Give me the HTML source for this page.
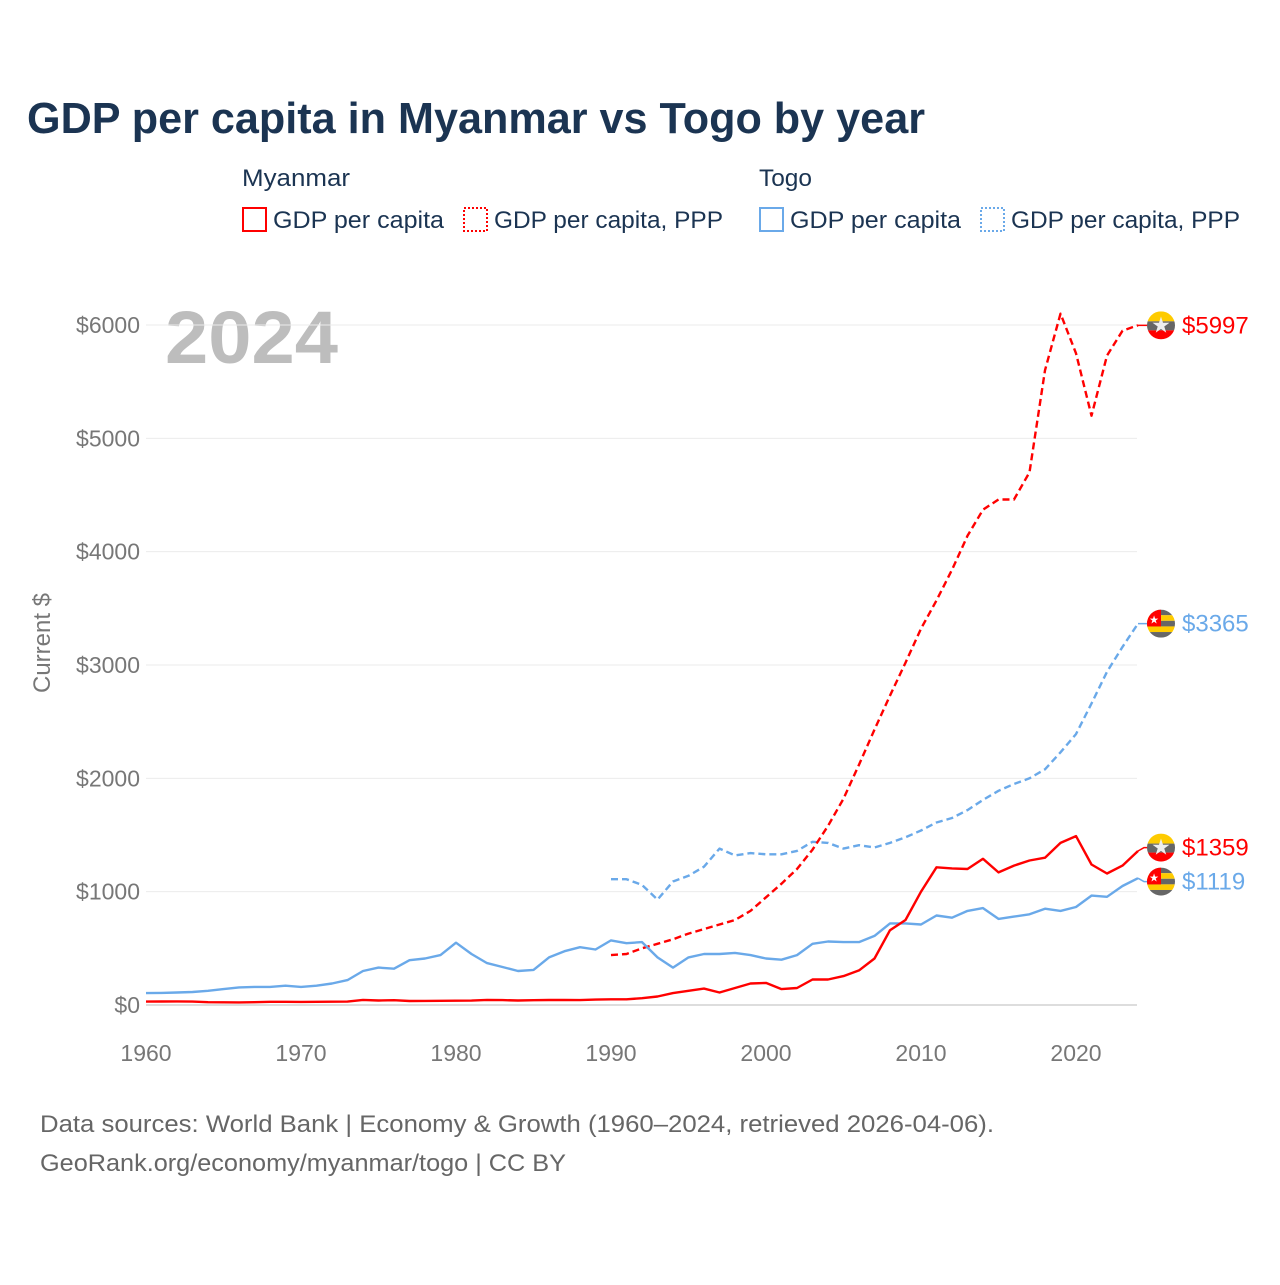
<!DOCTYPE html>
<html><head><meta charset="utf-8"><style>
body{margin:0;background:#fff}
svg text{font-family:"Liberation Sans",sans-serif}
</style></head><body>
<svg id="chart" width="1280" height="1280" viewBox="0 0 1280 1280" xmlns="http://www.w3.org/2000/svg">
<rect width="1280" height="1280" fill="#fff"/>
<text x="27" y="133" font-size="44" font-weight="bold" fill="#1b3452" textLength="898" lengthAdjust="spacingAndGlyphs">GDP per capita in Myanmar vs Togo by year</text>
<g fill="#1b3452" font-size="24">
<text x="242" y="186" textLength="108" lengthAdjust="spacingAndGlyphs">Myanmar</text>
<text x="759" y="186" textLength="53" lengthAdjust="spacingAndGlyphs">Togo</text>
<g><rect x="243" y="208" width="23" height="23" fill="none" stroke="#f00" stroke-width="2"/><text x="273" y="228" textLength="171" lengthAdjust="spacingAndGlyphs">GDP per capita</text></g>
<g><rect x="464" y="208" width="23" height="23" fill="none" stroke="#f00" stroke-width="2" stroke-dasharray="2,2"/><text x="494" y="228" textLength="229" lengthAdjust="spacingAndGlyphs">GDP per capita, PPP</text></g>
<g><rect x="760" y="208" width="23" height="23" fill="none" stroke="#6aa9e9" stroke-width="2"/><text x="790" y="228" textLength="171" lengthAdjust="spacingAndGlyphs">GDP per capita</text></g>
<g><rect x="981" y="208" width="23" height="23" fill="none" stroke="#6aa9e9" stroke-width="2" stroke-dasharray="2,2"/><text x="1011" y="228" textLength="229" lengthAdjust="spacingAndGlyphs">GDP per capita, PPP</text></g>
</g>
<text x="165" y="363" font-size="74" font-weight="bold" fill="#bdbdbd" textLength="173" lengthAdjust="spacingAndGlyphs">2024</text>
<text transform="translate(50,643) rotate(-90)" text-anchor="middle" font-size="24" fill="#777">Current $</text>
<g id="grid"></g><g id="series"></g><g id="ends"></g>
<text x="40" y="1132" font-size="24" fill="#666" textLength="954" lengthAdjust="spacingAndGlyphs">Data sources: World Bank | Economy &amp; Growth (1960–2024, retrieved 2026-04-06).</text>
<text x="40" y="1171" font-size="24" fill="#666" textLength="526" lengthAdjust="spacingAndGlyphs">GeoRank.org/economy/myanmar/togo | CC BY</text>
</svg>
<script>
const yTicks=[0,1000,2000,3000,4000,5000,6000];
const yTickLabels=["$0","$1000","$2000","$3000","$4000","$5000","$6000"];
const xTicks=[1960,1970,1980,1990,2000,2010,2020];
const togoGdp=[105,107,110,115,125,140,155,160,160,170,160,170,190,220,300,330,320,395,410,440,550,450,370,335,300,310,420,475,510,490,570,545,555,420,330,420,450,450,460,440,410,400,440,540,560,555,555,610,720,720,710,790,770,830,855,760,780,800,850,830,865,965,955,1050,1119];
const myanmarGdp=[30,31,32,30,25,24,23,25,28,28,27,28,29,30,45,40,42,35,36,37,38,39,45,43,40,42,44,44,43,48,50,50,60,75,105,125,145,110,150,190,195,140,150,225,225,255,305,410,660,750,1000,1215,1205,1200,1290,1170,1230,1275,1300,1430,1490,1240,1160,1230,1359];
const ppYears1990=1990;
const myanmarPpp=[440,450,500,540,580,630,670,710,750,830,950,1070,1200,1370,1580,1820,2120,2430,2730,3020,3320,3570,3840,4140,4370,4460,4460,4700,5600,6100,5750,5200,5730,5950,5997];
const togoPpp=[1110,1110,1060,930,1090,1140,1220,1380,1320,1340,1330,1330,1360,1440,1430,1380,1410,1390,1430,1480,1540,1610,1650,1720,1810,1890,1950,2000,2080,2230,2390,2660,2940,3160,3365];
const endLabels=["$5997","$3365","$1359","$1119"];
const NS="http://www.w3.org/2000/svg";
const x=yr=>146+(yr-1960)*15.5;
const y=v=>1005-v*0.113333;
function mk(t,a,p){const e=document.createElementNS(NS,t);for(const k in a)e.setAttribute(k,a[k]);p.appendChild(e);return e;}
const grid=document.getElementById('grid');
yTicks.forEach((v,i)=>{
 const l=mk('line',{x1:146,x2:1137,y1:y(v),y2:y(v),stroke:v===0?'#ddd':'#ebebeb','stroke-width':v===0?2:1},grid);
 
 
 const t=mk('text',{x:140,y:y(v)+8,'text-anchor':'end','font-size':23,fill:'#777'},grid);
 t.textContent=yTickLabels[i];
 
 
});
xTicks.forEach(yr=>{
 const t=mk('text',{x:x(yr),y:1061,'text-anchor':'middle','font-size':23,fill:'#777'},grid);
 t.textContent=yr;
 
 
});
const ser=document.getElementById('series');
function line(vals,start,color,dash,name){
 const d=vals.map((v,i)=>(i?'L':'M')+x(start+i).toFixed(1)+','+y(v).toFixed(1)).join('');
 const p=mk('path',{d:d,fill:'none',stroke:color,'stroke-width':2.4,'stroke-linejoin':'round'},ser);
 if(dash)p.setAttribute('stroke-dasharray','7,4');
 
 
}
line(togoPpp,ppYears1990,'#6aa9e9',true,'togo-ppp-line');
line(myanmarPpp,ppYears1990,'#f00',true,'myanmar-ppp-line');
line(togoGdp,1960,'#6aa9e9',false,'togo-gdp-line');
line(myanmarGdp,1960,'#f00',false,'myanmar-gdp-line');
const ends=document.getElementById('ends');
const lastVals=[myanmarPpp[myanmarPpp.length-1],togoPpp[togoPpp.length-1],myanmarGdp[myanmarGdp.length-1],togoGdp[togoGdp.length-1]];
const colors=['#f00','#6aa9e9','#f00','#6aa9e9'];
const isMyanmar=[true,false,true,false];
const ly=[y(lastVals[0]),y(lastVals[1]),y(lastVals[2]),y(lastVals[3])];
if(ly[3]-ly[2]<34){const m=(ly[2]+ly[3])/2;ly[2]=m-17;ly[3]=m+17;}
lastVals.forEach((v,i)=>{
 const g=mk('g',{},ends);
 
 
 mk('path',{d:`M${x(2024)},${y(v)}L1144,${ly[i]}L1150,${ly[i]}`,stroke:colors[i],fill:'none','stroke-width':1.5},g);
 const cy=ly[i],cx=1161;
 const cp='cp'+i;
 const c=mk('clipPath',{id:cp},g);mk('circle',{cx:cx,cy:cy,r:14},c);
 const f=mk('g',{'clip-path':`url(#${cp})`},g);
 if(isMyanmar[i]){
  mk('rect',{x:cx-14,y:cy-14,width:28,height:10,fill:'#fecb00'},f);
  mk('rect',{x:cx-14,y:cy-4,width:28,height:9,fill:'#666'},f);
  mk('rect',{x:cx-14,y:cy+5,width:28,height:9,fill:'#f00'},f);
  mk('text',{x:cx,y:cy+7,'text-anchor':'middle','font-size':22,fill:'#eee'},f).textContent='★';
 }else{
  for(let k=0;k<5;k++)mk('rect',{x:cx-14,y:cy-14+k*5.6,width:28,height:5.6,fill:k%2?'#fecb00':'#666'},f);
  mk('rect',{x:cx-14,y:cy-14,width:14,height:16.8,fill:'#f00'},f);
  mk('text',{x:cx-7,y:cy,'text-anchor':'middle','font-size':11,fill:'#fff'},f).textContent='★';
 }
 const t=mk('text',{x:1182,y:cy+8,'font-size':24,fill:colors[i]},g);
 t.textContent=endLabels[i];
});
</script>
</body></html>
